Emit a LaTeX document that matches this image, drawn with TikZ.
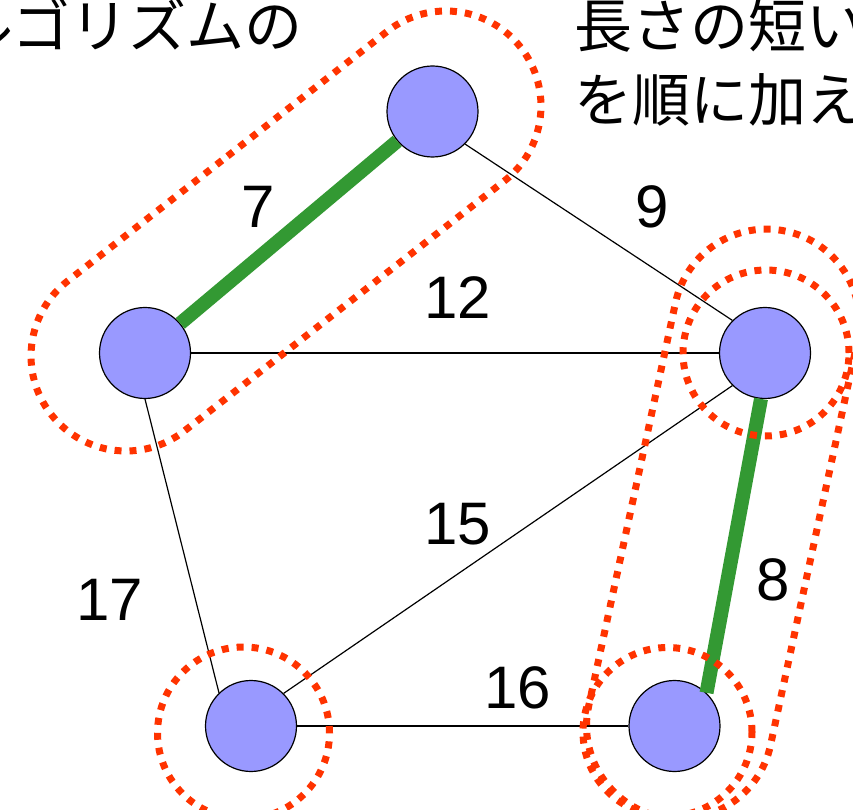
\documentclass[tikz,border=0pt]{standalone}
\usepackage{fontspec}
\setmainfont{Liberation Sans}
\newfontfamily\jpfont{Noto Sans CJK JP}
\usepackage{xcolor}
\usetikzlibrary{positioning,shapes.misc}
\definecolor{cnode}{RGB}{153,153,255}
\definecolor{ctree}{RGB}{51,153,51}
\definecolor{cset}{RGB}{255,51,0}

\begin{document}
\begin{tikzpicture}[x=1pt, y=1pt, on grid, line width=1.2pt]
\tikzstyle{vertex}=[circle, fill=cnode, draw=black, line width=1.2pt, minimum size=91pt, inner sep=0pt]
\tikzstyle{weight}=[font=\fontsize{60}{72}\selectfont, inner sep=0pt]
\tikzstyle{set}=[draw=cset, line width=7pt, dash pattern=on 7pt off 8pt, inner sep=0pt]
\tikzstyle{head}=[font=\jpfont\fontsize{58}{74}\selectfont, inner sep=0pt]
\clip (0,0) rectangle (853,809);

% heading
\node[head, anchor=base east] (headL1) at (303,761) {アルゴリズムの};
\node[head, anchor=base east] (headL2) at (5,687) {動き};
\node[head, anchor=base west] (headR1) at (574,761) {長さの短い辺};
\node[head, anchor=base west] (headR2) at (574,687) {を順に加えて};

% vertices
\node[vertex] (A) at (432.5,697.5) {};
\node[vertex] (B) [below left=241.5pt and 287.5pt of A] {};
\node[vertex] (C) [right=620pt of B] {};
\node[vertex] (D) [below right=373pt and 106pt of B] {};
\node[vertex] (E) [right=423.5pt of D] {};

\draw
(A.south east) edge (C.north west)
(B) edge (C)
(B.south) edge (D.134)
(C.south west) edge (D.north east)
(D) edge (E);
\draw[ctree, line width=14pt]
(B) edge (A)
(C.265) edge (E.46);

% weights
\node[weight] (w7) at (258,602) {7};
\node[weight] (w9) at (652,602) {9};
\node[weight] (w12) at (458,511) {12};
\node[weight] (w17) at (110,209) {17};
\node[weight] (w15) at (458,285) {15};
\node[weight] (w16) at (518,121) {16};
\node[weight] (w8) at (773,229) {8};

% sets
\node[set, rounded rectangle, minimum width=596pt, minimum height=190pt, rotate=38] (setAB) at (286,578) {};
\node[set, rounded rectangle, minimum width=599pt, minimum height=186pt, rotate=77.85] (setCE) at (723,285) {};
\node[set, circle, minimum size=166pt] (setC) at (766,456) {};
\node[set, circle, minimum size=172pt] (setD) at (243.5,76) {};
\node[set, circle, minimum size=169pt] (setE) at (667.5,77) {};
\end{tikzpicture}
\end{document}
